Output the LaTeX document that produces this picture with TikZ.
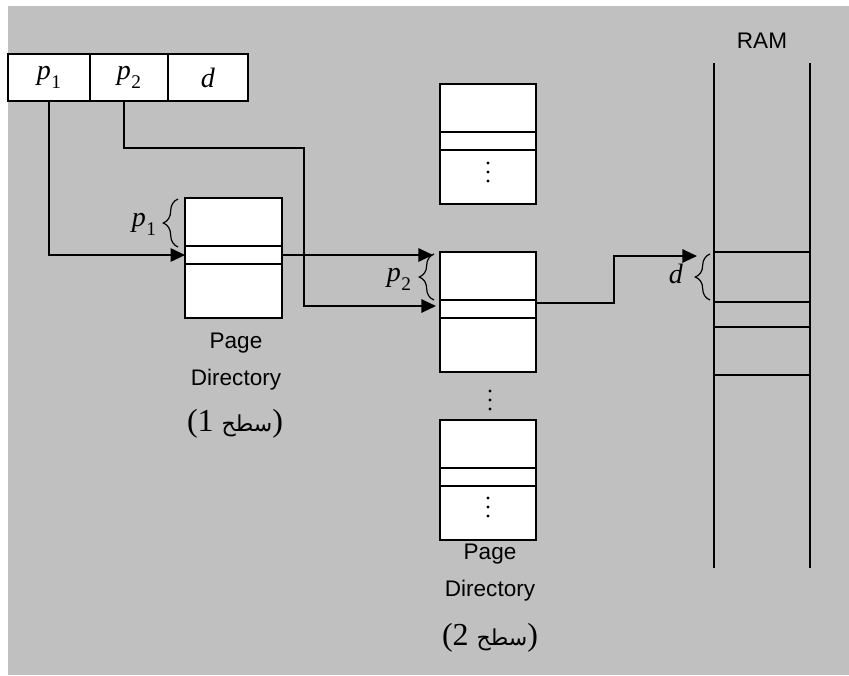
\documentclass[tikz,border=0pt]{standalone}
\usepackage{fontspec}
\setmainfont{Liberation Serif}
\setsansfont{Liberation Sans}
\newfontfamily\arabicfont[Script=Arabic]{DejaVu Sans}
\TeXXeTstate=1
\usetikzlibrary{arrows.meta,decorations.pathreplacing,calc}
\definecolor{bggray}{HTML}{C0C0C0}
\newcommand\pv[1]{\textit{p}\kern0.3pt\raisebox{-0.32em}{\fontsize{14.5}{15}\selectfont #1}}
\newcommand\lvl[1]{{\fontsize{24}{24}\selectfont (#1\ }{\arabicfont\fontsize{16.5}{17}\selectfont\beginR سطح\endR}{\fontsize{24}{24}\selectfont )}}
\tikzset{
  ln/.style={line width=1.5pt},
  arr/.style={ln,-{Triangle[length=11pt,width=10pt]}},
  cellbox/.style={draw,line width=1.5pt,fill=white,inner sep=0pt,outer sep=0pt,minimum width=72.5pt},
  toprow/.style={cellbox,minimum height=36pt},
  midrow/.style={cellbox,minimum height=13.5pt},
  botrow/.style={cellbox,minimum height=40.5pt},
  addrcell/.style={draw,line width=1.5pt,fill=white,inner sep=0pt,outer sep=0pt,minimum height=35.25pt,font=\fontsize{21}{21}\selectfont},
  bracelbl/.style={font=\fontsize{21}{21}\selectfont,inner sep=0pt},
  bracestyle/.style={line width=0.9pt,decorate,decoration={brace,amplitude=11pt}},
  sflbl/.style={font=\sffamily\fontsize{16.9}{17}\selectfont,inner sep=0pt},
  dot/.style={fill=black}
}
\begin{document}
\begin{tikzpicture}[x=0.75pt,y=-0.75pt]
\useasboundingbox (0,0) rectangle (849,675);
\fill[bggray] (8,6) rectangle (849,675);

% address
\node[addrcell,minimum width=61.5pt] (a1) at (49,77.5) {\pv{1}};
\node[addrcell,minimum width=58.5pt] (a2) at (129,77.5) {\pv{2}};
\node[addrcell,minimum width=60pt] (a3) at (208,77.5) {\textit{d}};

% page directory 1
\node[toprow] (pd1top) at (233.5,222) {};
\node[midrow,anchor=north] (pd1mid) at (pd1top.south) {};
\node[botrow,anchor=north] (pd1bot) at (pd1mid.south) {};

% second-level tables
\node[toprow] (pd0top) at (488,108) {};
\node[midrow,anchor=north] (pd0mid) at (pd0top.south) {};
\node[botrow,anchor=north] (pd0bot) at (pd0mid.south) {};

\node[toprow] (pd2top) at (488,276) {};
\node[midrow,anchor=north] (pd2mid) at (pd2top.south) {};
\node[botrow,anchor=north] (pd2bot) at (pd2mid.south) {};

\node[toprow] (pd3top) at (488,444) {};
\node[midrow,anchor=north] (pd3mid) at (pd3top.south) {};
\node[botrow,anchor=north] (pd3bot) at (pd3mid.south) {};

% dots
\foreach \yy in {163,172,181} \fill[dot] (488,\yy) circle (1.3pt);
\foreach \yy in {391,400,409} \fill[dot] (490,\yy) circle (1.3pt);
\foreach \yy in {498,507,516} \fill[dot] (488,\yy) circle (1.3pt);

% RAM
\node[sflbl] (ramlbl) at (762,41) {RAM};
\draw[ln] (714,63) -- (714,568);
\draw[ln] (810,63) -- (810,568);
\node[draw,line width=1.5pt,inner sep=0pt,outer sep=0pt,minimum width=72pt,minimum height=37.5pt] (ramd) at (762,277) {};
\draw[ln] (714,327) -- (810,327);
\draw[ln] (714,375) -- (810,375);

% braces and labels
\draw[bracestyle] (178,247) -- (178,199);
\node[bracelbl] (lp1) at (144,224) {\pv{1}};
\draw[bracestyle] (434,300) -- (434,254);
\node[bracelbl] (lp2) at (399,279) {\pv{2}};
\draw[bracestyle] (710,300) -- (710,254);
\node[bracelbl] (ld) at (676,274) {\textit{d}};

% captions
\node[sflbl] (c1a) at (236,343) {Page};
\node[sflbl] (c1b) at (236,380) {Directory};
\node[inner sep=0pt] (c1c) at (235,424) {\lvl{1}};
\node[sflbl] (c2a) at (490,554) {Page};
\node[sflbl] (c2b) at (490,591) {Directory};
\node[inner sep=0pt] (c2c) at (490,638) {\lvl{2}};

% connectors
\coordinate (a2out) at (124,101);
\coordinate (pd2in) at (436,306);
\coordinate (pd2out) at (536,303);
\coordinate (dtip) at (697,256);
\draw[arr] (a1.south) |- (pd1mid.west);
\draw[arr] (a2out) |- (304,148) |- (pd2in);
\draw[arr,shorten >=5pt] (pd1mid.east) -- (pd1mid.east -| pd2top.west);
\draw[arr] (pd2out) -- ++(78,0) |- (dtip);
\end{tikzpicture}
\end{document}
